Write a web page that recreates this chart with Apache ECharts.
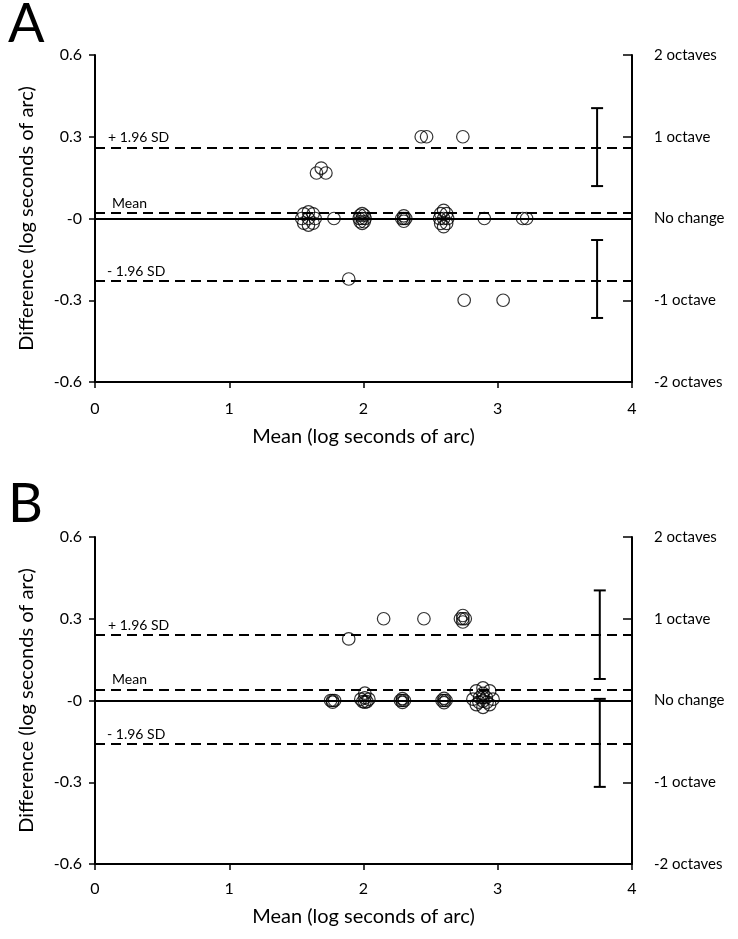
<!DOCTYPE html>
<html>
<head>
<meta charset="utf-8">
<script src="https://cdn.jsdelivr.net/npm/echarts@6/dist/echarts.min.js"></script>
<style>html,body{margin:0;padding:0;background:#fff}#c{width:738px;height:939px}</style>
</head>
<body>
<div id="c"></div>
<script>
// ---------- Data ----------
const xTicks = [0, 1, 2, 3, 4];
const leftTickLabels = {"6": "0.6", "3": "0.3", "0": "-0", "-3": "-0.3", "-6": "-0.6"};
const rightTickLabels = {"6": "2 octaves", "3": "1 octave", "0": "No change", "-3": "-1 octave", "-6": "-2 octaves"};

// Panel A points (mean, difference)
const aMean = [2.43, 2.47, 2.74, 1.65, 1.72, 1.685, 1.89, 2.75, 3.04, 1.78, 2.90, 3.185, 3.215,
  1.59, 1.54, 1.64, 1.59, 1.59, 1.555, 1.625, 1.555, 1.625,
  1.99, 1.968, 2.012, 1.99, 1.99, 1.975, 2.005, 1.975, 2.005,
  2.30, 2.285, 2.315, 2.30, 2.30,
  2.597, 2.567, 2.627, 2.597, 2.597, 2.575, 2.619, 2.575, 2.619];
const aDiff = [0.30, 0.30, 0.30, 0.167, 0.167, 0.185, -0.222, -0.30, -0.30, 0.0, 0.0, 0.0, 0.0,
  0.0, 0.0, 0.0, 0.024, -0.024, 0.017, 0.017, -0.017, -0.017,
  0.0, 0.0, 0.0, 0.018, -0.018, 0.012, 0.012, -0.012, -0.012,
  0.0, 0.0, 0.0, 0.01, -0.01,
  0.0, 0.0, 0.0, 0.03, -0.03, 0.018, 0.018, -0.018, -0.018];
const aLines = {upper: 0.262, mean: 0.02, lower: -0.226, zero: 0};
const aErrX = [3.74, 3.74];
const aErrLow = [0.119, -0.365];
const aErrHigh = [0.405, -0.079];

// Panel B points
const bMean = [2.15, 2.45, 2.74, 2.722, 2.758, 2.74, 2.74, 1.89,
  1.77, 1.755, 1.785, 1.77,
  2.01, 1.98, 2.04, 2.01, 2.01, 1.995, 2.025,
  2.29, 2.275, 2.305, 2.29, 2.29,
  2.60, 2.585, 2.615, 2.60, 2.60,
  2.89, 2.815, 2.965, 2.89, 2.89, 2.84, 2.94, 2.84, 2.94, 2.865, 2.915, 2.89, 2.89, 2.86, 2.92];
const bDiff = [0.30, 0.30, 0.30, 0.30, 0.30, 0.312, 0.288, 0.226,
  0.0, 0.0, 0.0, -0.006,
  0.01, 0.005, 0.005, 0.027, -0.006, -0.004, -0.004,
  0.0, 0.0, 0.0, 0.007, -0.007,
  0.0, 0.0, 0.0, 0.008, -0.008,
  0.011, 0.005, 0.005, 0.046, -0.025, 0.035, 0.035, -0.015, -0.015, 0.011, 0.011, 0.026, -0.002, -0.006, -0.006];
const bLines = {upper: 0.241, mean: 0.0385, lower: -0.156, zero: 0};
const bErrX = [3.76, 3.76];
const bErrLow = [0.079, -0.317];
const bErrHigh = [0.404, 0.006];

// ---------- Chart ----------
const FONT = 'Lato';
const chart = echarts.init(document.getElementById('c'));

function zip(xs, ys) { return xs.map((x, i) => [x, ys[i]]); }
function errData(xs, lo, hi) { return xs.map((x, i) => [x, lo[i], hi[i]]); }

function xAxisCfg(gi) {
  return {
    gridIndex: gi, type: 'value', min: 0, max: 4, interval: 1,
    name: 'Mean (log seconds of arc)', nameLocation: 'middle', nameGap: gi === 0 ? 45 : 43,
    nameTextStyle: {fontFamily: FONT, fontSize: 20, color: '#000'},
    axisLine: {show: true, onZero: false, lineStyle: {color: '#000', width: 2}},
    axisTick: {show: true, length: 6, lineStyle: {color: '#000', width: 1.5}},
    axisLabel: {fontFamily: FONT, fontSize: 16, color: '#000', margin: gi === 0 ? 19 : 17},
    splitLine: {show: false}
  };
}
function yLeftCfg(gi) {
  return {
    gridIndex: gi, type: 'value', min: -0.6, max: 0.6, interval: 0.3, position: 'left',
    name: 'Difference (log seconds of arc)', nameLocation: 'middle', nameGap: 58,
    nameTextStyle: {fontFamily: FONT, fontSize: 20, color: '#000'},
    axisLine: {show: true, onZero: false, lineStyle: {color: '#000', width: 2}},
    axisTick: {show: true, length: 6, lineStyle: {color: '#000', width: 1.5}},
    axisLabel: {fontFamily: FONT, fontSize: 16, color: '#000', margin: 13,
      formatter: v => leftTickLabels[String(Math.round(v * 10))]},
    splitLine: {show: false}
  };
}
function yRightCfg(gi) {
  return {
    gridIndex: gi, type: 'value', min: -0.6, max: 0.6, interval: 0.3, position: 'right',
    axisLine: {show: true, onZero: false, lineStyle: {color: '#000', width: 2}},
    axisTick: {show: true, inside: true, length: 9, lineStyle: {color: '#000', width: 1.5}},
    axisLabel: {fontFamily: FONT, fontSize: 15, color: '#000', margin: 22,
      formatter: v => rightTickLabels[String(Math.round(v * 10))]},
    splitLine: {show: false}
  };
}

function refLine(val, label, dashed, dx) {
  return {
    yAxis: val,
    lineStyle: {color: '#000', width: 2, type: dashed ? [10, 6] : 'solid'},
    label: {show: !!label, formatter: label || '', position: 'insideStartTop',
      fontFamily: FONT, fontSize: 14, color: '#000', distance: [dx || 12, 3]}
  };
}

function panelSeries(gi, mean, diff, lines, ex, elo, ehi) {
  return [
    {
      type: 'line', xAxisIndex: gi, yAxisIndex: gi * 2, data: [], silent: true,
      markLine: {
        symbol: 'none', silent: true, animation: false,
        data: [
          refLine(lines.zero, null, false),
          refLine(lines.upper, '+ 1.96 SD', true, 13),
          refLine(lines.mean, 'Mean', true, 17),
          refLine(lines.lower, '- 1.96 SD', true, 12)
        ]
      }
    },
    {
      type: 'scatter', xAxisIndex: gi, yAxisIndex: gi * 2,
      data: zip(mean, diff), symbol: 'circle', symbolSize: 12.5,
      itemStyle: {color: 'rgba(255,255,255,0)', borderColor: '#000', borderWidth: 1.2},
      z: 5
    },
    {
      type: 'custom', xAxisIndex: gi, yAxisIndex: gi * 2,
      data: errData(ex, elo, ehi),
      renderItem: function (params, api) {
        const lo = api.coord([api.value(0), api.value(1)]);
        const hi = api.coord([api.value(0), api.value(2)]);
        const hw = 6;
        const st = {stroke: '#000', lineWidth: 2};
        return {type: 'group', children: [
          {type: 'line', shape: {x1: lo[0], y1: lo[1], x2: hi[0], y2: hi[1]}, style: st},
          {type: 'line', shape: {x1: lo[0] - hw, y1: lo[1], x2: lo[0] + hw, y2: lo[1]}, style: st},
          {type: 'line', shape: {x1: hi[0] - hw, y1: hi[1], x2: hi[0] + hw, y2: hi[1]}, style: st}
        ]};
      },
      z: 6
    }
  ];
}

chart.setOption({
  animation: false,
  backgroundColor: '#fff',
  grid: [
    {left: 95, right: 106, top: 55, bottom: 557},
    {left: 95, right: 106, top: 537, bottom: 75}
  ],
  xAxis: [xAxisCfg(0), xAxisCfg(1)],
  yAxis: [yLeftCfg(0), yRightCfg(0), yLeftCfg(1), yRightCfg(1)],
  graphic: [
    {type: 'text', left: 8, top: -2, style: {text: 'A', fontFamily: FONT, fontSize: 54, fill: '#000'}},
    {type: 'text', left: 8, top: 478, style: {text: 'B', fontFamily: FONT, fontSize: 54, fill: '#000'}}
  ],
  series: [].concat(
    panelSeries(0, aMean, aDiff, aLines, aErrX, aErrLow, aErrHigh),
    panelSeries(1, bMean, bDiff, bLines, bErrX, bErrLow, bErrHigh)
  )
});
</script>
</body>
</html>
